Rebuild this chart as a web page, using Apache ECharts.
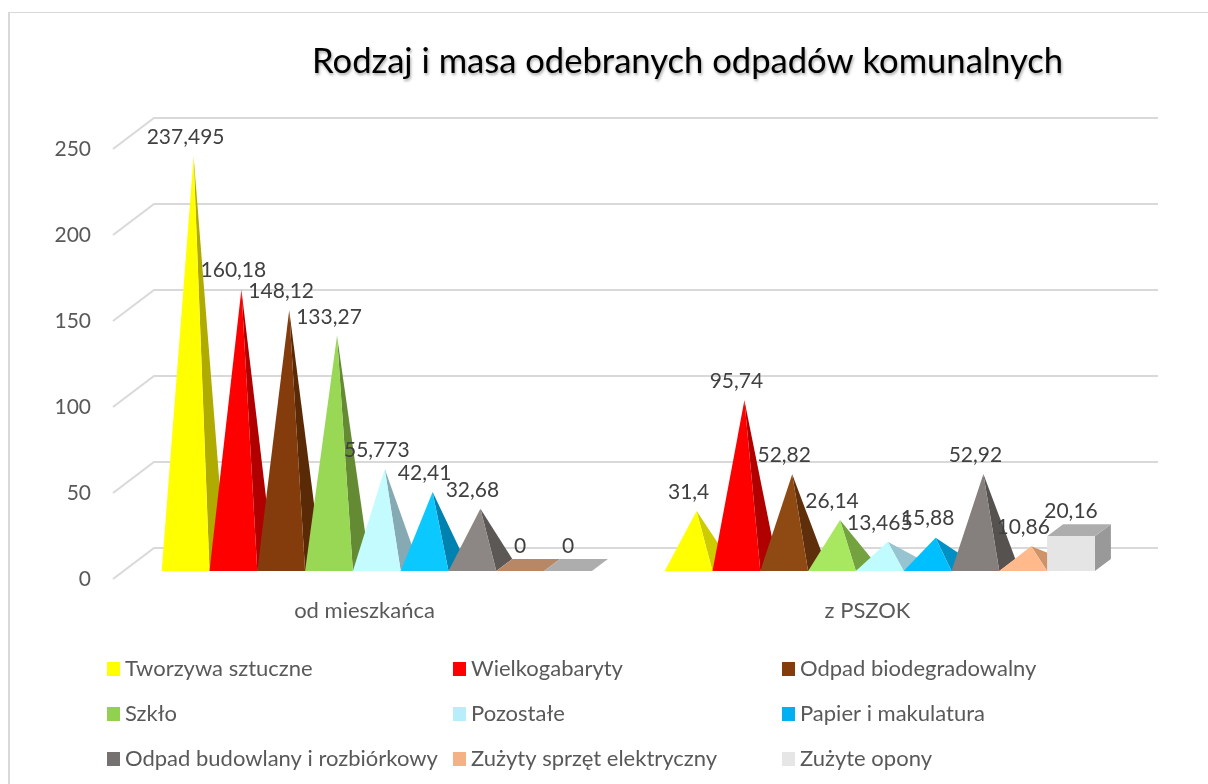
<!DOCTYPE html>
<html lang="pl">
<head>
<meta charset="utf-8">
<title>Rodzaj i masa odebranych odpadów komunalnych</title>
<style>html,body{margin:0;padding:0;background:#fff}#chart{width:1208px;height:784px}</style>
<script src="https://cdn.jsdelivr.net/npm/echarts@6/dist/echarts.min.js"></script>
</head>
<body>
<div id="chart"></div>
<script>
const chartTitle = 'Rodzaj i masa odebranych odpadów komunalnych';
const categories = ['od mieszkańca', 'z PSZOK'];
const yTicks = [0, 50, 100, 150, 200, 250];

const seriesNames = ['Tworzywa sztuczne', 'Wielkogabaryty', 'Odpad biodegradowalny', 'Szkło', 'Pozostałe',
  'Papier i makulatura', 'Odpad budowlany i rozbiórkowy', 'Zużyty sprzęt elektryczny', 'Zużyte opony'];
const tworzywa = [237.495, 31.4];
const wielkogabaryty = [160.18, 95.74];
const biodegradowalny = [148.12, 52.82];
const szklo = [133.27, 26.14];
const pozostale = [55.773, 13.465];
const papier = [42.41, 15.88];
const budowlany = [32.68, 52.92];
const elektryczny = [0, 10.86];
const opony = [0, 20.16];
const seriesValues = [tworzywa, wielkogabaryty, biodegradowalny, szklo, pozostale, papier, budowlany, elektryczny, opony];

const legendColors = ['#ffff00', '#ff0000', '#843c0c', '#92d050', '#b7eefa', '#00b0f0', '#767171', '#f4b183', '#e7e6e6'];
const frontColors = [
  ['#ffff00', '#ffff00'], ['#ff0000', '#ff0000'], ['#843c0c', '#8f4a14'],
  ['#98d854', '#a8e860'], ['#c4fbff', '#c0fbff'], ['#0bc8ff', '#00bfff'],
  ['#8c8684', '#857f7e'], ['#b88866', '#ffb98a'], ['#adadad', '#e5e5e5']
];
const sideColors = [
  ['#b0ab00', '#cccc00'], ['#b00000', '#b00000'], ['#5a2a06', '#5e2f0a'],
  ['#648a34', '#74a23e'], ['#86aab4', '#96c4d0'], ['#0082b0', '#0090c4'],
  ['#5c5856', '#565250'], ['#b88866', '#cc9468'], ['#adadad', '#999999']
];

const FONT = 'Lato, sans-serif';
const DEPTH_X = 16, DEPTH_Y = 12;
const BASE_LIFT = 8, APEX_LIFT = 14, LABEL_LIFT = 19;
const BAR_SHARE = 47.8 / 503, SHIFT_SHARE = 12.3 / 503;

function label(text, x, y) {
  return {
    type: 'text', z2: 100, silent: true,
    style: { text, x, y, align: 'center', verticalAlign: 'middle', font: '21px ' + FONT, fill: '#404040' }
  };
}

function makeRender(k) {
  return function (params, api) {
    const g = api.value(0), v = api.value(1);
    const zero = api.coord([g, 0]), top = api.coord([g, v]);
    const band = api.size([1, 0])[0];
    const w = band * BAR_SHARE;
    const x0 = zero[0] + band * SHIFT_SHARE + (k - seriesNames.length / 2) * w;
    const x1 = x0 + w;
    const by = zero[1] - BASE_LIFT;
    const front = frontColors[k][g], side = sideColors[k][g];
    const apexY = top[1] - APEX_LIFT;
    const children = [];
    const poly = (points, fill) => children.push({ type: 'polygon', silent: true, shape: { points }, style: { fill } });
    const isBox = k === seriesNames.length - 1;
    if (v === 0) {
      poly([[x0, by], [x1, by], [x1 + DEPTH_X, by - DEPTH_Y], [x0 + DEPTH_X, by - DEPTH_Y]], front);
    } else if (isBox) {
      const h = zero[1] - top[1];
      poly([[x1, by], [x1 + DEPTH_X, by - DEPTH_Y], [x1 + DEPTH_X, by - DEPTH_Y - h], [x1, by - h]], side);
      poly([[x0, by - h], [x1, by - h], [x1 + DEPTH_X, by - h - DEPTH_Y], [x0 + DEPTH_X, by - h - DEPTH_Y]], '#adadad');
      poly([[x0, by], [x1, by], [x1, by - h], [x0, by - h]], front);
    } else {
      const ax = x0 + w / 2 + DEPTH_X / 2;
      poly([[x1, by], [x1 + DEPTH_X, by - DEPTH_Y], [ax, apexY]], side);
      poly([[x0, by], [x1, by], [ax, apexY]], front);
    }
    children.push(label(String(v).replace('.', ','), x0 + w / 2, apexY - LABEL_LIFT));
    return { type: 'group', children };
  };
}

const wallSeries = {
  type: 'custom', name: 'wall', silent: true, z: 1,
  data: yTicks.map(t => [0, t]), encode: { x: 0, y: 1 },
  renderItem(params, api) {
    const y = api.coord([0, api.value(1)])[1];
    const c = params.coordSys;
    return {
      type: 'polyline', silent: true,
      shape: { points: [[c.x, y], [c.x + 41, y - 31], [c.x + c.width + 39, y - 31]] },
      style: { stroke: '#d9d9d9', lineWidth: 2, fill: 'none' }
    };
  }
};

const barSeries = seriesNames.map((name, k) => ({
  type: 'custom', name, z: 2,
  itemStyle: { color: legendColors[k] },
  data: seriesValues[k].map((v, g) => [g, v]),
  encode: { x: 0, y: 1 },
  renderItem: makeRender(k)
}));

const legendCol = (left, idx) => ({
  orient: 'vertical', left, top: 653, itemWidth: 13, itemHeight: 14, itemGap: 23,
  selectedMode: false, icon: 'rect',
  data: idx.map(i => seriesNames[i]),
  textStyle: { fontFamily: FONT, fontSize: 22, color: '#595959' }
});

const chart = echarts.init(document.getElementById('chart'), null, { renderer: 'canvas' });
chart.setOption({
  animation: false,
  backgroundColor: '#fff',
  title: {
    text: chartTitle, left: 307, top: 39,
    textStyle: {
      fontFamily: FONT, fontSize: 34.6, fontWeight: 'normal', color: '#000',
      textShadowColor: 'rgba(0,0,0,0.35)', textShadowBlur: 3, textShadowOffsetX: 1, textShadowOffsetY: 2
    }
  },
  graphic: [
    { type: 'line', silent: true, z: -1, shape: { x1: 9, y1: 12, x2: 9, y2: 784 }, style: { stroke: '#d9d9d9', lineWidth: 2 } },
    { type: 'line', silent: true, z: -1, shape: { x1: 8, y1: 12.5, x2: 1208, y2: 12.5 }, style: { stroke: '#d9d9d9', lineWidth: 1 } }
  ],
  grid: { left: 113, top: 149, width: 1006, height: 430 },
  xAxis: {
    type: 'category', data: categories,
    axisLine: { show: false }, axisTick: { show: false }, splitLine: { show: false },
    axisLabel: { fontFamily: FONT, fontSize: 22, color: '#595959', margin: 21 }
  },
  yAxis: {
    type: 'value', min: 0, max: 250, interval: 50,
    axisLine: { show: false }, axisTick: { show: false }, splitLine: { show: false },
    axisLabel: { fontFamily: FONT, fontSize: 21, color: '#595959', margin: 22, padding: [8, 0, 0, 0] }
  },
  legend: [legendCol(102, [0, 3, 6]), legendCol(448, [1, 4, 7]), legendCol(777, [2, 5, 8])],
  tooltip: { show: false },
  series: [wallSeries].concat(barSeries)
});
</script>
</body>
</html>
